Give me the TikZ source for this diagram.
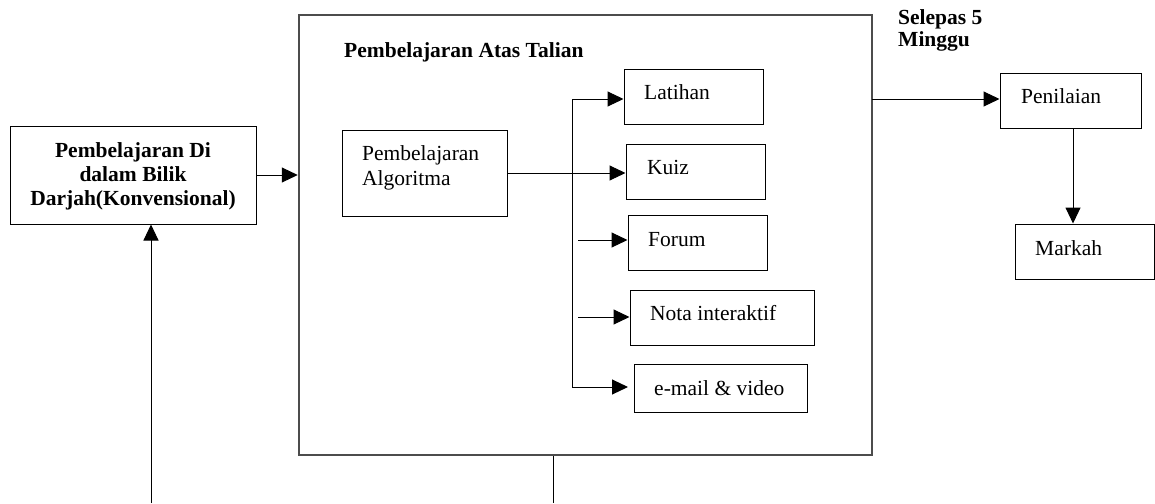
\documentclass[tikz,border=0pt]{standalone}
\usepackage{fontspec}
\setmainfont{Liberation Serif}
\usetikzlibrary{arrows.meta}
\begin{document}
\begin{tikzpicture}[x=1pt,y=-1pt,
  box/.style={draw=black,line width=1pt,rectangle,inner sep=0pt},
  bigbox/.style={draw=black!70,line width=2.5pt,rectangle,inner sep=0pt},
  txt/.style={inner sep=0pt,anchor=base west,font=\fontsize{21.5}{24}\selectfont},
  btxt/.style={inner sep=0pt,anchor=base west,font=\fontsize{21.5}{24}\selectfont\bfseries},
  arr/.style={line width=1pt,-{Triangle[length=16pt,width=15pt]}},
  ln/.style={line width=1pt}]
\useasboundingbox (0,0) rectangle (1155,503);
% boxes
\node[box,minimum width=246pt,minimum height=98pt] (left) at (133,175) {};
\node[bigbox,minimum width=573pt,minimum height=440pt] (big) at (585.5,235) {};
\node[box,minimum width=165pt,minimum height=86pt] (alg) at (424.5,173) {};
\node[box,minimum width=139pt,minimum height=55pt] (lat) at (693.5,96.5) {};
\node[box,minimum width=139pt,minimum height=55pt] (kuiz) at (695.5,171.5) {};
\node[box,minimum width=139pt,minimum height=55pt] (forum) at (697.5,242.5) {};
\node[box,minimum width=184pt,minimum height=55pt] (nota) at (722,317.5) {};
\node[box,minimum width=173pt,minimum height=48pt] (email) at (720.5,388) {};
\node[box,minimum width=141pt,minimum height=55pt] (pen) at (1070.5,100.5) {};
\node[box,minimum width=139pt,minimum height=55pt] (mark) at (1084.5,251.5) {};
% texts
\node[btxt,anchor=base] (l1) at (133,157) {Pembelajaran Di};
\node[btxt,anchor=base] (l2) at (133,181) {dalam Bilik};
\node[btxt,anchor=base] (l3) at (133,205) {Darjah(Konvensional)};
\node[btxt] (title) at (344,57) {Pembelajaran Atas Talian};
\node[txt] (a1) at (362,160) {Pembelajaran};
\node[txt] (a2) at (362,185) {Algoritma};
\node[txt] (tlat) at (644,99) {Latihan};
\node[txt] (tkuiz) at (647,174) {Kuiz};
\node[txt] (tforum) at (648,246) {Forum};
\node[txt] (tnota) at (650,320) {Nota interaktif};
\node[txt] (temail) at (654,395) {e-mail \& video};
\node[txt] (tpen) at (1021,103) {Penilaian};
\node[txt] (tmark) at (1035,255) {Markah};
\node[btxt] (s1) at (898,25) {Selepas 5};
\node[btxt] (s2) at (898,46) {Minggu};
% connectors
\draw[arr] (left.east) -- (left.east -| big.west);
\draw[arr] (alg.east) -- (alg.east -| kuiz.west);
\coordinate (bt) at (572,99);
\coordinate (bb) at (572,387);
\coordinate (et) at (628,387);
\coordinate (fs) at (578,240);
\coordinate (ns) at (578,317);
\draw[ln] (bt) -- (bb);
\draw[arr] (bt) -- (bt -| lat.west);
\draw[arr] (bb) -- (et);
\draw[arr] (fs) -- (fs -| forum.west);
\draw[arr] (ns) -- (ns -| nota.west);
\coordinate (pr) at (872,99);
\draw[arr] (pr) -- (pr -| pen.west);
\coordinate (pd) at (1073,128);
\draw[arr] (pd) -- (pd |- mark.north);
\coordinate (b1) at (151,503);
\draw[arr] (b1) -- (b1 |- left.south);
\coordinate (b2) at (553,503);
\draw[ln] (b2 |- big.south) -- (b2);
\end{tikzpicture}
\end{document}
